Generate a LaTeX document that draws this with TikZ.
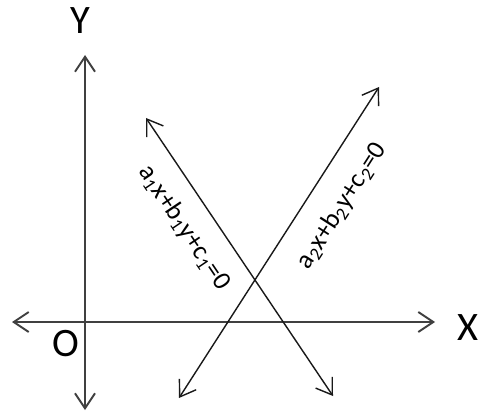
\documentclass[tikz,border=0pt]{standalone}
\usepackage{fontspec}
\setmainfont{Carlito}
\usetikzlibrary{arrows.meta}
\tikzset{
 axis/.style={{Straight Barb[length=3mm,width=4mm]}-{Straight Barb[length=3mm,width=4mm]},
              line width=1.1pt,draw=black!75},
 line/.style={{Straight Barb[length=3mm,width=4mm]}-{Straight Barb[length=3mm,width=4mm]},
              line width=0.8pt,draw=black!90},
 eqn/.style={font=\fontsize{15}{17}\selectfont,inner sep=0pt},
 axlabel/.style={font=\fontsize{23}{26}\selectfont,inner sep=0pt}
}
\begin{document}
\begin{tikzpicture}[x=0.02cm,y=-0.02cm]
\useasboundingbox (0,0) rectangle (479,415);
% axes
\coordinate (ytop) at (85,55);
\coordinate (ybot) at (85,410);
\coordinate (xleft) at (12,322);
\coordinate (xright) at (435,322);
\draw[axis] (ybot) -- (ytop);
\draw[axis] (xleft) -- (xright);
\node[axlabel] (ylabel) at (80,21) {Y};
\node[axlabel] (xlabel) at (468,328) {X};
\node[axlabel] (origin) at (66,344) {O};
% the two lines
\coordinate (l1a) at (146,118);
\coordinate (l1b) at (333,396);
\coordinate (l2a) at (179,398);
\coordinate (l2b) at (379,87);
\draw[line] (l1a) -- (l1b)
  node[eqn,pos=0.335,sloped,below=10pt] (eq1)
  {a\textsubscript{1}x+b\textsubscript{1}y+c\textsubscript{1}=0};
\draw[line] (l2a) -- (l2b)
  node[eqn,pos=0.675,sloped,below=12pt] (eq2)
  {a\textsubscript{2}x+b\textsubscript{2}y+c\textsubscript{2}=0};
\end{tikzpicture}
\end{document}
